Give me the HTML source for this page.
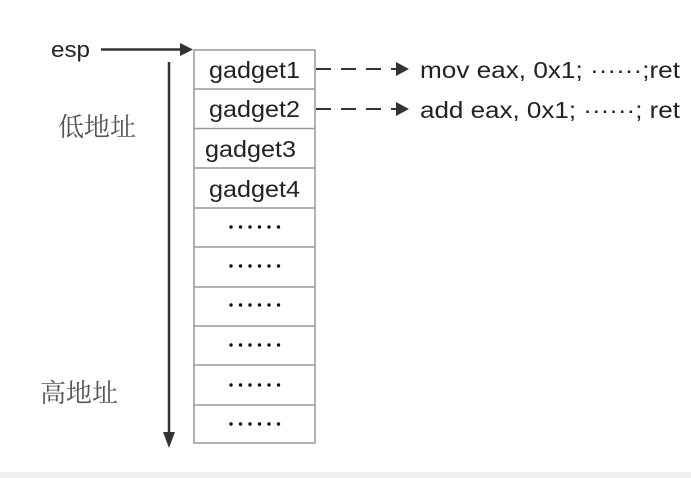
<!DOCTYPE html>
<html><head><meta charset="utf-8"><style>
html,body{margin:0;padding:0;width:691px;height:478px;background:#fff;overflow:hidden}
</style></head><body>
<svg width="691" height="478" xmlns="http://www.w3.org/2000/svg">
<defs>
<g id="d" fill="#111"><circle cx="231" cy="0" r="1.7"/><circle cx="240.5" cy="0" r="1.7"/><circle cx="250" cy="0" r="1.7"/><circle cx="259.5" cy="0" r="1.7"/><circle cx="269" cy="0" r="1.7"/><circle cx="278.5" cy="0" r="1.7"/></g>
</defs>
<rect x="0" y="0" width="691" height="478" fill="#fff"/>
<rect x="0" y="472" width="691" height="6" fill="#efefef"/>
<g font-family="'Liberation Sans', sans-serif" fill="#222">
<text x="51" y="57" font-size="22" textLength="39" lengthAdjust="spacingAndGlyphs">esp</text>
</g>
<line x1="101" y1="49.5" x2="182" y2="49.5" stroke="#333" stroke-width="2.5"/>
<polygon points="180,43 193,49.5 180,56" fill="#333"/>
<line x1="169" y1="62" x2="169" y2="435" stroke="#333" stroke-width="2.5"/>
<polygon points="163,432 175,432 169,448" fill="#333"/>
<rect x="194" y="50" width="121" height="393" stroke="#999" stroke-width="1.5" fill="#fff"/>
<g stroke="#999" stroke-width="1.5">
<line x1="194" y1="89" x2="315" y2="89"/>
<line x1="194" y1="128.5" x2="315" y2="128.5"/>
<line x1="194" y1="168" x2="315" y2="168"/>
<line x1="194" y1="208" x2="315" y2="208"/>
<line x1="194" y1="247" x2="315" y2="247"/>
<line x1="194" y1="287" x2="315" y2="287"/>
<line x1="194" y1="326" x2="315" y2="326"/>
<line x1="194" y1="365" x2="315" y2="365"/>
<line x1="194" y1="405" x2="315" y2="405"/>
</g>
<g font-family="'Liberation Sans', sans-serif" font-size="23" fill="#222">
<text x="209" y="78" textLength="91" lengthAdjust="spacingAndGlyphs">gadget1</text>
<text x="209" y="117" textLength="91" lengthAdjust="spacingAndGlyphs">gadget2</text>
<text x="205" y="157" textLength="91" lengthAdjust="spacingAndGlyphs">gadget3</text>
<text x="209" y="197" textLength="91" lengthAdjust="spacingAndGlyphs">gadget4</text>
</g>
<use href="#d" y="227"/><use href="#d" y="266"/><use href="#d" y="305"/><use href="#d" y="345"/><use href="#d" y="385"/><use href="#d" y="424"/>
<g stroke="#333" stroke-width="2" stroke-dasharray="15,10">
<line x1="316" y1="69" x2="396" y2="69"/>
<line x1="316" y1="109" x2="396" y2="109"/>
</g>
<polygon points="396,62 409,69 396,76" fill="#333"/>
<polygon points="396,102 409,109 396,116" fill="#333"/>
<g font-family="'Liberation Sans', sans-serif" font-size="23" fill="#222">
<text x="420" y="78" textLength="260" lengthAdjust="spacingAndGlyphs">mov eax, 0x1; ······;ret</text>
<text x="420" y="118" textLength="260" lengthAdjust="spacingAndGlyphs">add eax, 0x1; ······; ret</text>
</g>
<g font-family="'Liberation Serif', 'Noto Serif CJK SC', serif" font-size="26" fill="#555">
<text x="58" y="136">低地址</text>
<text x="40" y="402">高地址</text>
</g>
</svg>
</body></html>
